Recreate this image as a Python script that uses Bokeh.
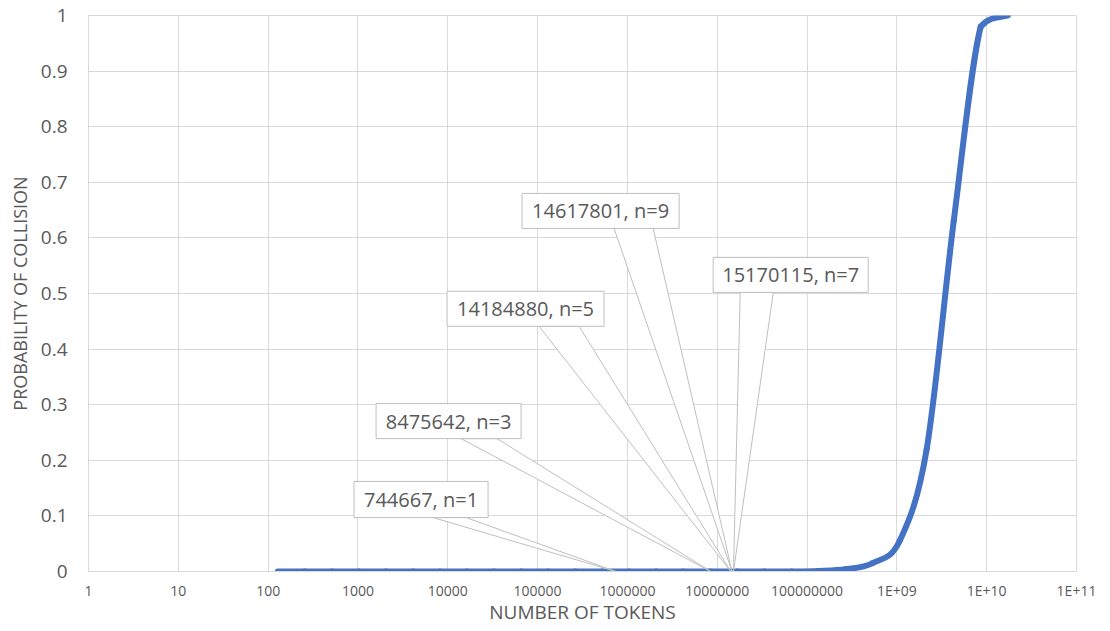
import numpy as np
from bokeh.plotting import figure
from bokeh.models import FixedTicker
from bokeh.core.properties import value
from bokeh.embed import file_html
from bokeh.resources import INLINE

# ---------------- data ----------------
tokens = [128, 256, 512, 1024, 2048, 4096, 8192, 16384, 32768, 65536,
          131072, 262144, 524288, 1048576, 2097152, 4194304, 8388608,
          16777216, 33554432, 67108864, 134217728, 268435456, 536870912,
          1073741824, 2147483648, 4294967296, 8589934592, 17179869184]
prob = [0, 0, 0, 0, 0, 0, 0, 0, 0, 0,
        0, 0, 0, 0, 0, 0, 0,
        0.00001, 0.00003, 0.0001, 0.001, 0.004, 0.015,
        0.055, 0.22, 0.63, 0.98, 1.0]

call_tokens = [744667, 8475642, 14184880, 14617801, 15170115]
call_n = [1, 3, 5, 9, 7]
call_prob = [0, 0, 0, 0, 0]

x_ticks = [1, 10, 100, 1000, 10000, 100000, 1000000, 10000000, 100000000,
           1000000000, 10000000000, 100000000000]
x_tick_labels = ["1", "10", "100", "1000", "10000", "100000", "1000000",
                 "10000000", "100000000", "1E+09", "1E+10", "1E+11"]
y_ticks = [0, 0.1, 0.2, 0.3, 0.4, 0.5, 0.6, 0.7, 0.8, 0.9, 1.0]
y_tick_labels = ["0", "0.1", "0.2", "0.3", "0.4", "0.5", "0.6", "0.7", "0.8", "0.9", "1"]

# ---------------- callout layout (log10 of x, probability) ----------------
box_left_log = [2.956, 3.202, 3.992, 4.827, 6.955]
box_right_log = [4.449, 4.816, 5.740, 6.576, 8.681]
box_bottom = [0.097, 0.239, 0.441, 0.617, 0.502]
box_top = [0.162, 0.302, 0.504, 0.680, 0.565]
base_l_log = [3.836, 4.148, 5.017, 5.852, 7.256]
base_r_log = [4.204, 4.549, 5.462, 6.287, 7.624]

GRID = "#D9D9D9"
TXT = "#595959"
FONT = "Open Sans"

p = figure(width=1100, height=629, x_axis_type="log",
           x_range=(1, 1e11), y_range=(0, 1),
           output_backend="svg", toolbar_location=None,
           min_border_left=88, min_border_right=24,
           min_border_top=15, min_border_bottom=58)
p.background_fill_color = "white"
p.border_fill_color = "white"
p.outline_line_color = GRID

xt = FixedTicker(ticks=x_ticks, minor_ticks=[])
yt = FixedTicker(ticks=y_ticks, minor_ticks=[])
p.xaxis.ticker = xt
p.yaxis.ticker = yt
p.xgrid.ticker = xt
p.ygrid.ticker = yt
p.xaxis.major_label_overrides = dict(zip(x_ticks, x_tick_labels))
p.yaxis.major_label_overrides = dict(zip(y_ticks, y_tick_labels))
for g in (p.xgrid, p.ygrid):
    g.grid_line_color = GRID
    g.grid_line_width = 1

for ax in (p.xaxis, p.yaxis):
    ax.axis_line_color = GRID
    ax.major_tick_line_color = None
    ax.minor_tick_line_color = None
    ax.major_tick_out = 0
    ax.major_tick_in = 0
    ax.major_label_text_color = TXT
    ax.major_label_text_font = FONT
    ax.axis_label_text_color = TXT
    ax.axis_label_text_font = FONT
    ax.axis_label_text_font_style = "normal"

p.yaxis.major_label_text_font_size = "19px"
p.yaxis.major_label_standoff = 21
p.yaxis.axis_label = "PROBABILITY OF COLLISION"
p.yaxis.axis_label_text_font_size = "18px"
p.yaxis.axis_label_standoff = 6

p.xaxis.major_label_text_font_size = "14px"
p.xaxis.major_label_standoff = 9
p.xaxis.axis_label = "NUMBER OF TOKENS"
p.xaxis.axis_label_text_font_size = "19px"
p.xaxis.axis_label_standoff = -4

# ---------------- smoothed curve (Bezier segments through the data) ----------------
lx = np.log10(np.array(tokens, dtype=float))
ly = np.array(prob, dtype=float)
n = len(lx)
x0, y0, x1, y1, cx0, cy0, cx1, cy1 = ([] for _ in range(8))
for i in range(n - 1):
    a = i - 1 if i > 0 else i
    d = i + 2 if i + 2 < n else i + 1
    lo, hi = min(ly[i], ly[i + 1]), max(ly[i], ly[i + 1])
    c0x = lx[i] + (lx[i + 1] - lx[a]) / 6
    c0y = min(max(ly[i] + (ly[i + 1] - ly[a]) / 6, lo), hi)
    c1x = lx[i + 1] - (lx[d] - lx[i]) / 6
    c1y = min(max(ly[i + 1] - (ly[d] - ly[i]) / 6, lo), hi)
    x0.append(10 ** lx[i]); y0.append(ly[i])
    x1.append(10 ** lx[i + 1]); y1.append(ly[i + 1])
    cx0.append(10 ** c0x); cy0.append(c0y)
    cx1.append(10 ** c1x); cy1.append(c1y)

p.bezier(x0=x0, y0=y0, x1=x1, y1=y1, cx0=cx0, cy0=cy0, cx1=cx1, cy1=cy1,
         line_color="#4472C4", line_width=6, line_cap="round")

# ---------------- callouts ----------------
wx, wy = [], []
for k in range(len(call_tokens)):
    wx.append([10 ** base_l_log[k], call_tokens[k], 10 ** base_r_log[k]])
    wy.append([box_bottom[k], call_prob[k], box_bottom[k]])
p.patches(wx, wy, fill_color="white", line_color="#BFBFBF", line_width=1)

p.quad(left=[10 ** v for v in box_left_log], right=[10 ** v for v in box_right_log],
       bottom=box_bottom, top=box_top,
       fill_color="white", line_color="#BFBFBF", line_width=1)

labels = [f"{t}, n={m}" for t, m in zip(call_tokens, call_n)]
cx = [10 ** ((a + b) / 2) for a, b in zip(box_left_log, box_right_log)]
cy = [(a + b) / 2 for a, b in zip(box_bottom, box_top)]
p.text(x=cx, y=cy, text=labels, text_align="center", text_baseline="middle",
       text_font=value(FONT), text_font_size="20px", text_color=TXT)

open("out.html", "w").write(file_html(p, INLINE))
